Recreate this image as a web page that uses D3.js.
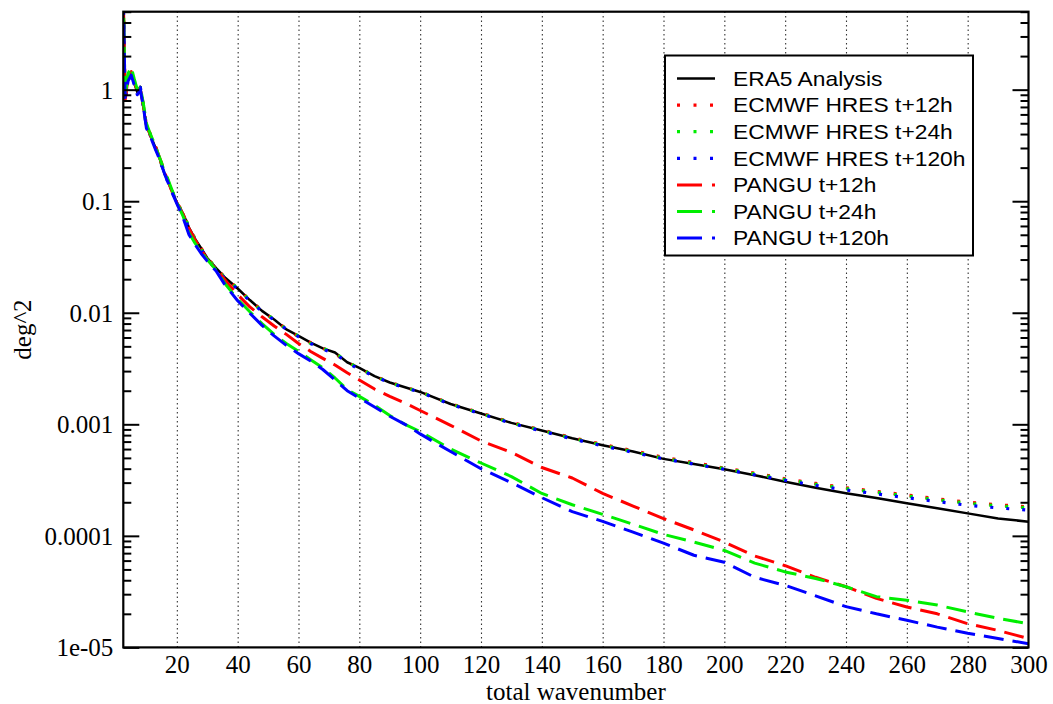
<!DOCTYPE html>
<html>
<head>
<meta charset="utf-8">
<script src="https://cdn.jsdelivr.net/npm/d3@7"></script>
<style>
  html, body { margin: 0; padding: 0; background: #fff; }
  svg { display: block; }
</style>
</head>
<body>
<svg id="chart" width="1053" height="704"></svg>
<script>
// ---------------- data ----------------
const wavenumbers = [2,3,4,5,6,7,8,9,10,11,12,13,14,15,16,17,18,19,20,
  22,24,26,28,30,33,36,40,44,48,52,56,60,64,68,72,76,80,85,90,95,
  100,110,120,130,140,150,160,170,180,190,200,210,220,230,240,250,260,270,280,290,300];

const era5 = [30,0.9,1.25,1.4,1.15,0.95,1.05,0.7,0.47,0.41,0.35,0.3,0.26,0.21,0.175,0.155,0.13,0.113,0.097,
  0.078,0.058,0.046,0.038,0.031,0.025,0.0205,0.0165,0.013,0.0104,0.0087,0.0071,0.0062,0.0054,0.0048,0.0044,0.0036,0.0032,0.0027,0.00237,0.00215,
  0.00195,0.00152,0.00125,0.00103,0.00088,0.00075,0.00065,0.00057,0.00049,0.00044,0.000395,0.00035,0.000306,0.00027,0.000241,0.000218,0.000196,0.000177,0.000159,0.000143,0.000134];

const hres12 = [30,0.85,1.3,1.45,1.2,0.95,1.05,0.72,0.48,0.42,0.35,0.3,0.26,0.215,0.18,0.155,0.13,0.114,0.098,
  0.079,0.058,0.046,0.038,0.031,0.025,0.0205,0.0165,0.013,0.0105,0.0086,0.0072,0.0061,0.0054,0.0048,0.0043,0.0036,0.0032,0.0027,0.0024,0.00215,
  0.00196,0.00153,0.00126,0.00104,0.00089,0.00076,0.00066,0.00058,0.000505,0.000455,0.000405,0.000365,0.000325,0.000295,0.00027,0.00025,0.000233,0.000215,0.0002,0.00019,0.000182];

const hres24 = [30,0.85,1.35,1.5,1.2,0.97,1.05,0.72,0.48,0.41,0.35,0.31,0.26,0.215,0.18,0.155,0.13,0.114,0.098,
  0.078,0.059,0.046,0.037,0.031,0.025,0.0203,0.0166,0.0129,0.0104,0.0087,0.0071,0.0062,0.0053,0.0048,0.0044,0.0036,0.0032,0.0027,0.00236,0.00214,
  0.00195,0.00152,0.00125,0.00103,0.00088,0.00075,0.00065,0.00057,0.000495,0.000445,0.0004,0.00036,0.00032,0.00029,0.000265,0.000245,0.000228,0.00021,0.000196,0.000186,0.000178];

const hres120 = [30,0.8,1.2,1.4,1.15,0.95,1.05,0.7,0.47,0.41,0.34,0.3,0.25,0.21,0.175,0.15,0.128,0.112,0.096,
  0.077,0.057,0.045,0.037,0.030,0.0245,0.020,0.0163,0.0128,0.0103,0.0086,0.0071,0.0061,0.0053,0.0047,0.0043,0.0036,0.0031,0.0027,0.00235,0.00213,
  0.00194,0.00151,0.00124,0.00102,0.00087,0.00074,0.00064,0.00056,0.00049,0.00044,0.000395,0.000352,0.000315,0.000283,0.000258,0.000238,0.00022,0.000203,0.000188,0.000178,0.00017];

const pangu12 = [30,0.8,1.3,1.45,1.2,0.95,1.0,0.72,0.48,0.41,0.35,0.31,0.26,0.22,0.18,0.155,0.13,0.114,0.097,
  0.077,0.057,0.045,0.037,0.030,0.0245,0.0195,0.0145,0.0113,0.0092,0.0076,0.0064,0.0053,0.0045,0.0039,0.0034,0.0029,0.0025,0.00207,0.00178,0.00155,
  0.00133,0.00098,0.00071,0.00056,0.00041,0.00033,0.00024,0.000185,0.000143,0.000113,0.000088,0.000066,0.000054,0.0000425,0.000035,0.0000275,0.000023,0.00002,0.0000163,0.0000142,0.000012];

const pangu24 = [30,0.85,1.4,1.6,1.25,1.0,1.05,0.75,0.5,0.42,0.36,0.31,0.26,0.22,0.18,0.16,0.135,0.115,0.098,
  0.074,0.052,0.042,0.035,0.030,0.024,0.018,0.0132,0.0102,0.008,0.0064,0.0053,0.0045,0.0038,0.0032,0.0026,0.00205,0.00178,0.00148,0.0012,0.001,
  0.00086,0.0006,0.00045,0.00034,0.00024,0.00019,0.000156,0.000127,0.000103,0.000088,0.000074,0.000057,0.0000475,0.0000415,0.000035,0.0000285,0.0000265,0.000024,0.0000208,0.0000182,0.0000163];

const pangu120 = [30,0.85,1.2,1.35,1.1,0.9,1.0,0.7,0.45,0.4,0.34,0.29,0.25,0.21,0.175,0.15,0.128,0.11,0.095,
  0.072,0.05,0.041,0.034,0.029,0.0235,0.0175,0.0128,0.0099,0.0077,0.0062,0.0051,0.0043,0.0037,0.0031,0.0025,0.002,0.00172,0.00143,0.00118,0.001,
  0.00082,0.00057,0.0004,0.0003,0.00022,0.000165,0.000135,0.000108,0.000086,0.000067,0.000058,0.0000425,0.000036,0.000029,0.0000232,0.00002,0.0000175,0.0000152,0.0000134,0.000012,0.0000108];

const seriesNames = ["ERA5 Analysis","ECMWF HRES t+12h","ECMWF HRES t+24h","ECMWF HRES t+120h","PANGU t+12h","PANGU t+24h","PANGU t+120h"];
const xTickValues = [20,40,60,80,100,120,140,160,180,200,220,240,260,280,300];
const yTickValues = [1,0.1,0.01,0.001,0.0001,0.00001];
const yTickLabels = ["1","0.1","0.01","0.001","0.0001","1e-05"];
const xLabel = "total wavenumber";
const yLabel = "deg^2";

// ---------------- styles ----------------
const seriesValues = [era5, hres12, hres24, hres120, pangu12, pangu24, pangu120];
const styles = [
  {color:"#000000", width:2.5, dash:null, offset:0, legendDash:null},
  {color:"#ff0000", width:3.2, dash:"3,13", offset:0, legendDash:"3,13.5"},
  {color:"#00ee00", width:3.2, dash:"3,13", offset:-2.5, legendDash:"3,13.5"},
  {color:"#0000ff", width:3.2, dash:"3,13", offset:-5, legendDash:"3,13.5"},
  {color:"#ff0000", width:3, dash:"20,9", offset:0, legendDash:"25,10,3,100"},
  {color:"#00ee00", width:3, dash:"20,9", offset:-6, legendDash:"25,10,3,100"},
  {color:"#0000ff", width:3, dash:"20,9", offset:-12, legendDash:"25,10,3,100"}
];

const L = 123.3, R = 1028.5, T = 11.7, B = 647.4;
const svg = d3.select("#chart");
svg.append("rect").attr("width",1053).attr("height",704).attr("fill","#fff");

const x = d3.scaleLinear().domain([2.4, 300]).range([L, R]);
const y = d3.scaleLog().domain([1e-5, 5]).range([B, T]);

svg.append("defs").append("clipPath").attr("id","plotclip")
  .append("rect").attr("x",L).attr("y",T).attr("width",R-L).attr("height",B-T);

// grid
const grid = svg.append("g").attr("class","grid")
  .attr("transform",`translate(0,${B})`)
  .call(d3.axisBottom(x).tickValues(xTickValues.filter(v=>v<300)).tickSize(-(B-T)).tickFormat(""));
grid.select(".domain").remove();
grid.selectAll("line").attr("stroke","#333").attr("stroke-width",1.1).attr("stroke-dasharray","1.5,3");

// curves
const line = d3.line().x(d=>x(d[0])).y(d=>y(d[1]));
const curves = svg.append("g").attr("clip-path","url(#plotclip)");
seriesValues.forEach((vals,i)=>{
  const pts = wavenumbers.map((k,j)=>[k, vals[j]]);
  const st = styles[i];
  curves.append("path").datum(pts).attr("d", line)
    .attr("fill","none").attr("stroke", st.color).attr("stroke-width", st.width)
    .attr("stroke-linejoin","round")
    .attr("stroke-dasharray", st.dash).attr("stroke-dashoffset", st.offset);
});

// y ticks (left and right, inward)
const allMinor = [];
for (let e=-5; e<=0; e++) for (let m=2; m<=9; m++) { const v = m*Math.pow(10,e); if (v<=5) allMinor.push(v); }
function tickStyle(g){ g.select(".domain").remove(); g.selectAll("line").attr("stroke","#000").attr("stroke-width",2); }
svg.append("g").attr("transform",`translate(${L},0)`)
  .call(d3.axisRight(y).tickValues(yTickValues).tickSize(16).tickFormat("")).call(tickStyle);
svg.append("g").attr("transform",`translate(${L},0)`)
  .call(d3.axisRight(y).tickValues(allMinor).tickSize(8).tickFormat("")).call(tickStyle);
svg.append("g").attr("transform",`translate(${R},0)`)
  .call(d3.axisLeft(y).tickValues(yTickValues).tickSize(16).tickFormat("")).call(tickStyle);
svg.append("g").attr("transform",`translate(${R},0)`)
  .call(d3.axisLeft(y).tickValues(allMinor).tickSize(8).tickFormat("")).call(tickStyle);

// y labels
const yl = svg.append("g").attr("transform",`translate(${L},0)`)
  .call(d3.axisLeft(y).tickValues(yTickValues).tickSize(0).tickPadding(10)
    .tickFormat((d,i)=>yTickLabels[i]));
yl.select(".domain").remove();
yl.selectAll("text").attr("font-family","'Liberation Serif','Times New Roman',serif")
  .attr("font-size",25).attr("fill","#000").attr("dy","0.34em");

// x labels
const xl = svg.append("g").attr("transform",`translate(0,${B})`)
  .call(d3.axisBottom(x).tickValues(xTickValues).tickSize(0).tickPadding(8).tickFormat(d=>String(d)));
xl.select(".domain").remove();
xl.selectAll("text").attr("font-family","'Liberation Serif','Times New Roman',serif")
  .attr("font-size",25).attr("fill","#000");

// frame
svg.append("rect").attr("x",L).attr("y",T).attr("width",R-L).attr("height",B-T)
  .attr("fill","none").attr("stroke","#000").attr("stroke-width",2.2);

// axis titles
svg.append("text").attr("x",(L+R)/2).attr("y",700).attr("text-anchor","middle")
  .attr("font-family","'Liberation Serif','Times New Roman',serif").attr("font-size",25).text(xLabel);
svg.append("text").attr("transform",`translate(31,${(T+B)/2}) rotate(-90)`).attr("text-anchor","middle")
  .attr("font-family","'Liberation Serif','Times New Roman',serif").attr("font-size",25).text(yLabel);

// legend
const lg = svg.append("g");
lg.append("rect").attr("x",665).attr("y",55.5).attr("width",308).attr("height",200)
  .attr("fill","#fff").attr("stroke","#000").attr("stroke-width",2);
seriesNames.forEach((name,i)=>{
  const ry = 78.5 + i*26.6;
  const st = styles[i];
  lg.append("line").attr("x1",677).attr("x2",715).attr("y1",ry).attr("y2",ry)
    .attr("stroke",st.color).attr("stroke-width",st.width)
    .attr("stroke-dasharray",st.legendDash);
  lg.append("text").attr("transform",`translate(733,${ry+7.2}) scale(1.14,1)`)
    .attr("font-family","'Liberation Sans',Arial,sans-serif").attr("font-size",20)
    .attr("fill","#000").text(name);
});
</script>
</body>
</html>
